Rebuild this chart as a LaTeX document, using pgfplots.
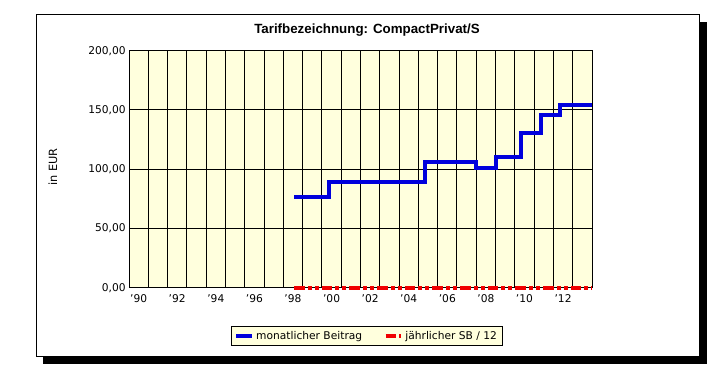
\documentclass[border=0pt]{standalone}
\usepackage{pgfplots}
\pgfplotsset{compat=1.18}
\usepackage{fontspec}
\setmainfont{DejaVu Sans}
\newfontfamily\titlefont{Liberation Sans}
\definecolor{cream}{RGB}{255,255,221}
\definecolor{lineblue}{RGB}{0,0,220}
\definecolor{linered}{RGB}{240,0,0}

\begin{document}
\begin{tikzpicture}[x=0.75pt,y=0.75pt]
\path[use as bounding box] (0,0) rectangle (708,379);
\fill[black] (43,15) rectangle (707,357);
\draw[black, line width=0.75pt, fill=white] (36,22) rectangle (699,364);
\begin{axis}[
  at={(96.75pt,68.475pt)}, anchor=south west,
  scale only axis, width=347.25pt, height=177.75pt,
  xmin=1990, xmax=2014, ymin=0, ymax=200,
  xtick={1990.5,1992.5,1994.5,1996.5,1998.5,2000.5,2002.5,2004.5,2006.5,2008.5,2010.5,2012.5},
  xticklabels={'90,'92,'94,'96,'98,'00,'02,'04,'06,'08,'10,'12},
  minor xtick={1990,1991,...,2014},
  xminorgrids=true, xmajorgrids=false, ymajorgrids=true,
  ytick={0,50,100,150,200},
  major tick length=0pt, minor tick length=0pt,
  grid style={black, line width=0.75pt},
  minor grid style={black, line width=0.75pt},
  axis line style={black, line width=0.75pt},
  axis background/.style={fill=cream},
  yticklabel style={xshift=1pt, /pgf/number format/.cd, fixed, fixed zerofill, precision=2, use comma, 1000 sep={}, assume math mode=true},
  tick label style={font=\fontsize{8}{9}\selectfont},
  xticklabel style={yshift=-1.5pt},
  clip=false,
  legend style={at={(0.514,-0.204)}, anchor=center, legend columns=2,
    draw=black, line width=0.75pt, fill=cream, font=\fontsize{8}{9}\selectfont,
    inner ysep=1.5pt, inner xsep=2pt,
    /tikz/every even column/.append style={column sep=14pt}},
  legend image code/.code={\draw[#1] (0cm,0cm) -- (0.4cm,0cm);},
]
\addplot[const plot mark left, lineblue, line width=3pt] coordinates {
  (1998.56,76.3) (2000.35,89.5) (2005.35,106.0) (2008.0,101.3)
  (2009.0,110.5) (2010.3,130.8) (2011.35,145.7) (2012.33,154.2) (2014,154.2)
};
\addlegendentry{monatlicher Beitrag}
\addplot[linered, line width=3pt, dash pattern=on 8pt off 2.25pt on 3pt off 2.25pt on 3pt off 2.25pt] coordinates {
  (1998.56,0) (2014,0)
};
\addlegendentry{jährlicher SB / 12}
\end{axis}
\node[anchor=base, font=\titlefont\bfseries\fontsize{10}{12}\selectfont, inner sep=0pt] at (367,345.7) {Tarifbezeichnung: CompactPrivat/S};
\node[rotate=90, anchor=center, font=\fontsize{8.5}{10}\selectfont, inner sep=0pt] at (53,212) {in EUR};
\end{tikzpicture}
\end{document}
